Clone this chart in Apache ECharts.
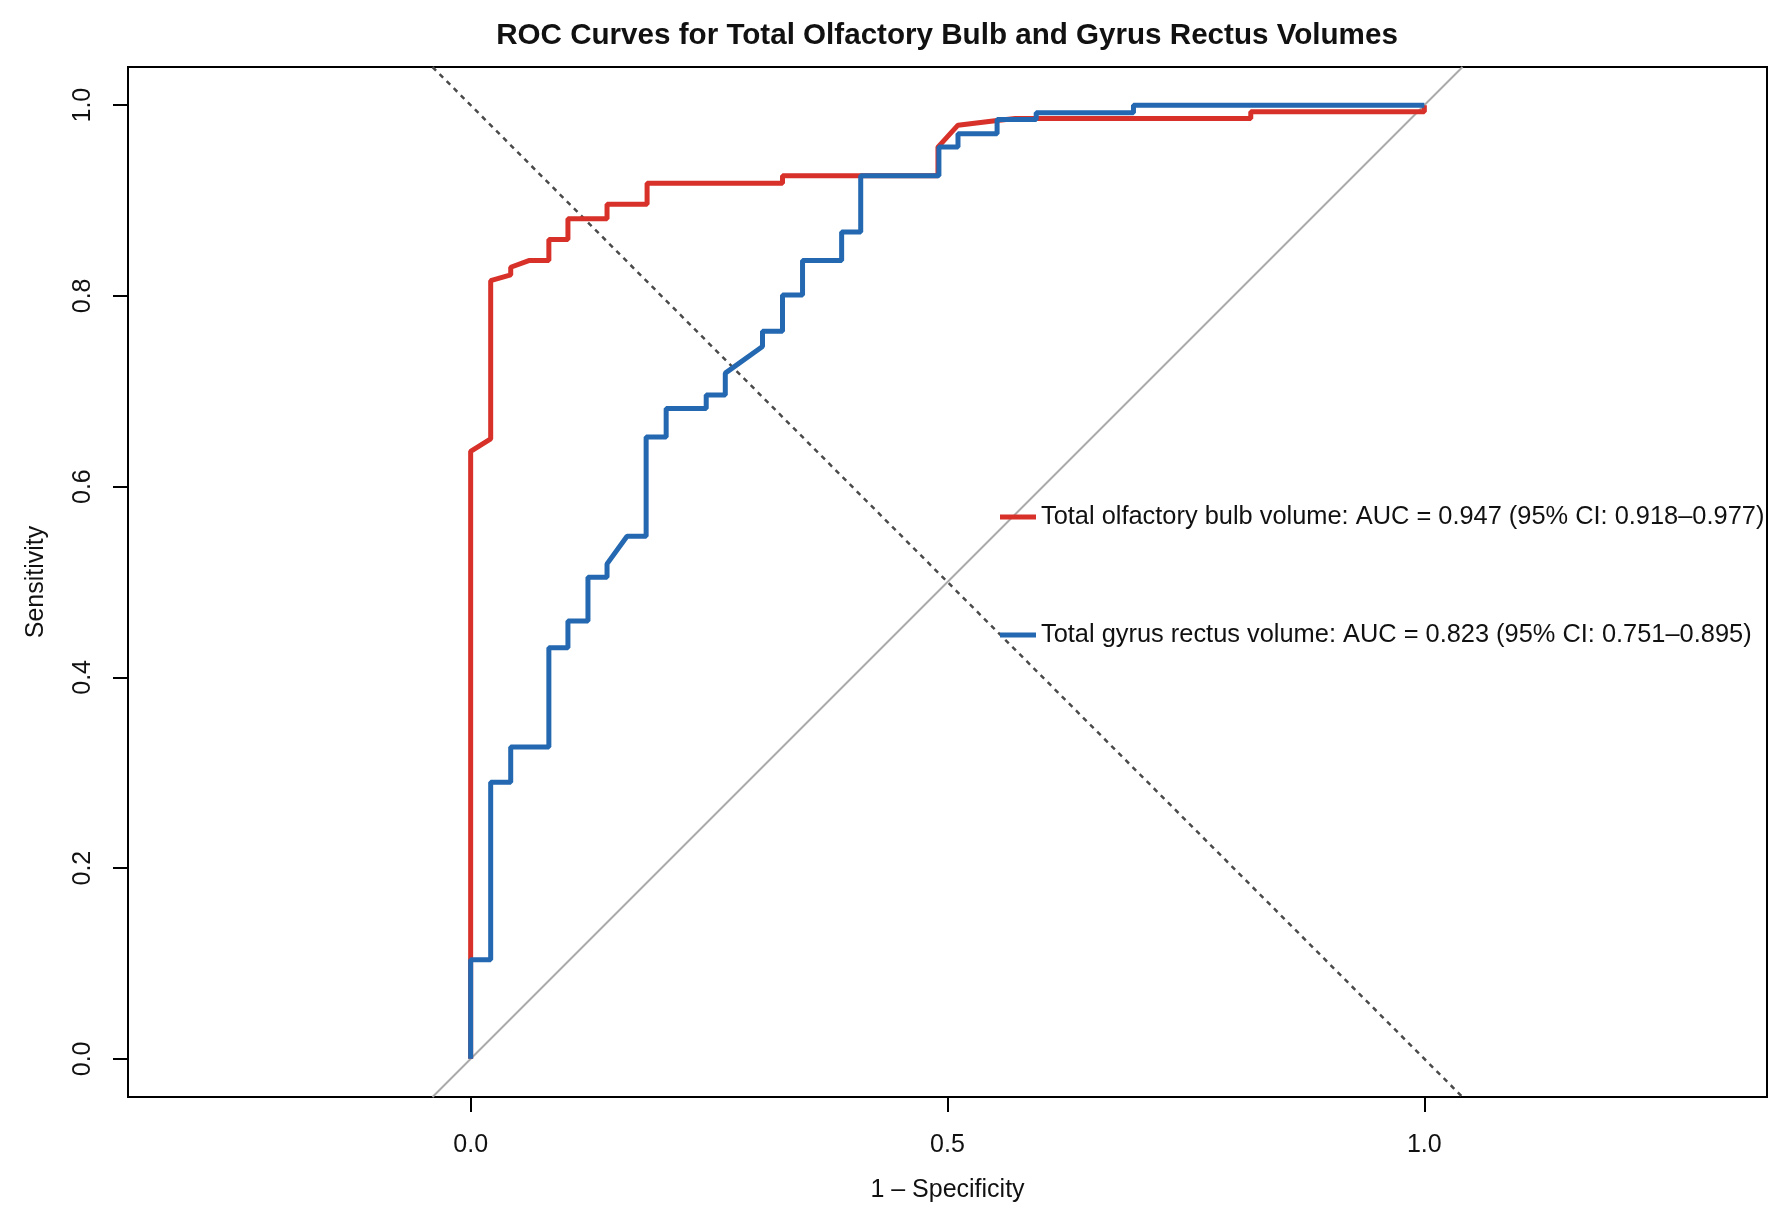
<!DOCTYPE html>
<html>
<head>
<meta charset="utf-8">
<title>ROC Curves</title>
<script src="https://cdn.jsdelivr.net/npm/echarts@6/dist/echarts.min.js"></script>
<style>
  html, body { margin: 0; padding: 0; background: #fff; }
  #chart { width: 1792px; height: 1231px; }
</style>
</head>
<body>
<div id="chart"></div>
<script>
'use strict';

// olfactory bulb ROC (1 - specificity, sensitivity)
const bulbFpr = [0, 0, 0.021, 0.021, 0.042, 0.042, 0.061, 0.082, 0.082, 0.102, 0.102, 0.143, 0.143, 0.185, 0.185,
    0.327, 0.327, 0.490, 0.490, 0.511, 0.552, 0.571, 0.818, 0.818, 1, 1]
const bulbTpr = [0, 0.637, 0.650, 0.816, 0.822, 0.830, 0.837, 0.837, 0.859, 0.859, 0.881, 0.881, 0.896, 0.896, 0.918,
    0.918, 0.926, 0.926, 0.956, 0.979, 0.984, 0.986, 0.986, 0.993, 0.993, 1]

// gyrus rectus ROC
const rectusFpr = [0, 0, 0.021, 0.021, 0.042, 0.042, 0.082, 0.082, 0.102, 0.102, 0.123, 0.123, 0.143, 0.143, 0.164,
    0.184, 0.184, 0.205, 0.205, 0.247, 0.247, 0.267, 0.267, 0.306, 0.306, 0.327, 0.327, 0.348, 0.348, 0.389, 0.389,
    0.409, 0.409, 0.491, 0.491, 0.511, 0.511, 0.552, 0.552, 0.593, 0.593, 0.695, 0.695, 1]
const rectusTpr = [0, 0.104, 0.104, 0.290, 0.290, 0.327, 0.327, 0.431, 0.431, 0.459, 0.459, 0.505, 0.505, 0.519, 0.548,
    0.548, 0.652, 0.652, 0.682, 0.682, 0.696, 0.696, 0.719, 0.747, 0.763, 0.763, 0.801, 0.801, 0.837, 0.837, 0.867,
    0.867, 0.926, 0.926, 0.956, 0.956, 0.970, 0.970, 0.985, 0.985, 0.992, 0.992, 1.0, 1.0]

// reference lines across the plot region
const chanceX = [-0.04, 1.04]
const chanceY = [-0.04, 1.04]
const crossX = [-0.04, 1.04]
const crossY = [1.04, -0.04]

const xTicks = [0, 0.5, 1]
const yTicks = [0, 0.2, 0.4, 0.6, 0.8, 1]

const bulbName = 'Total olfactory bulb volume: AUC = 0.947 (95% CI: 0.918\u20130.977)'
const rectusName = 'Total gyrus rectus volume: AUC = 0.823 (95% CI: 0.751\u20130.895)'

const zip = (xs, ys) => xs.map((x, i) => [x, ys[i]])

const FONT = 'Liberation Sans, Arial, Helvetica, sans-serif'

const myChart = echarts.init(document.getElementById('chart'))

const option = {
    backgroundColor: '#fff',
    animation: false,
    title: {
        text: 'ROC Curves for Total Olfactory Bulb and Gyrus Rectus Volumes',
        left: 947,
        top: 36,
        textAlign: 'center',
        textVerticalAlign: 'middle',
        padding: 0,
        textStyle: { fontFamily: FONT, fontSize: 29.6, fontWeight: 'bold', color: '#111' }
    },
    legend: {
        data: [bulbName, rectusName],
        orient: 'vertical',
        left: 1000,
        top: 502,
        padding: 0,
        itemGap: 88,
        itemWidth: 36,
        itemHeight: 5,
        icon: 'rect',
        textStyle: { fontFamily: FONT, fontSize: 25.4, lineHeight: 30, color: '#111' }
    },
    grid: {
        left: 128,
        right: 25,
        top: 67,
        bottom: 134,
        show: true,
        borderColor: '#000',
        borderWidth: 2,
        backgroundColor: 'transparent'
    },
    xAxis: {
        type: 'value',
        min: -0.3593,
        max: 1.3593,
        name: '1 \u2013 Specificity',
        nameLocation: 'middle',
        nameGap: 81,
        nameTextStyle: { fontFamily: FONT, fontSize: 25, color: '#111' },
        axisLine: { show: false, onZero: false },
        splitLine: { show: false },
        axisTick: {
            show: true,
            inside: false,
            length: 15,
            customValues: xTicks,
            lineStyle: { color: '#000', width: 2 }
        },
        axisLabel: {
            customValues: xTicks,
            margin: 36,
            fontFamily: FONT,
            fontSize: 25,
            color: '#111',
            formatter: v => v.toFixed(1)
        }
    },
    yAxis: {
        type: 'value',
        min: -0.04,
        max: 1.04,
        name: 'Sensitivity',
        nameLocation: 'middle',
        nameGap: 79,
        nameTextStyle: { fontFamily: FONT, fontSize: 25, color: '#111' },
        axisLine: { show: false, onZero: false },
        splitLine: { show: false },
        axisTick: {
            show: true,
            inside: false,
            length: 15,
            customValues: yTicks,
            lineStyle: { color: '#000', width: 2 }
        },
        axisLabel: {
            customValues: yTicks,
            rotate: 90,
            margin: 32,
            fontFamily: FONT,
            fontSize: 25,
            color: '#111',
            formatter: v => v.toFixed(1)
        }
    },
    series: [
        {
            name: 'chance',
            type: 'line',
            symbol: 'none',
            silent: true,
            data: zip(chanceX, chanceY),
            lineStyle: { color: '#aaaaaa', width: 2 }
        },
        {
            name: 'cross',
            type: 'line',
            symbol: 'none',
            silent: true,
            data: zip(crossX, crossY),
            lineStyle: { color: '#4a4a4a', width: 2.5, type: [5, 5] }
        },
        {
            name: bulbName,
            type: 'line',
            symbol: 'none',
            data: zip(bulbFpr, bulbTpr),
            itemStyle: { color: '#d7312a' },
            lineStyle: { color: '#d7312a', width: 5 }
        },
        {
            name: rectusName,
            type: 'line',
            symbol: 'none',
            data: zip(rectusFpr, rectusTpr),
            itemStyle: { color: '#2368b0' },
            lineStyle: { color: '#2368b0', width: 5 }
        }
    ]
}

myChart.setOption(option)
</script>
</body>
</html>
